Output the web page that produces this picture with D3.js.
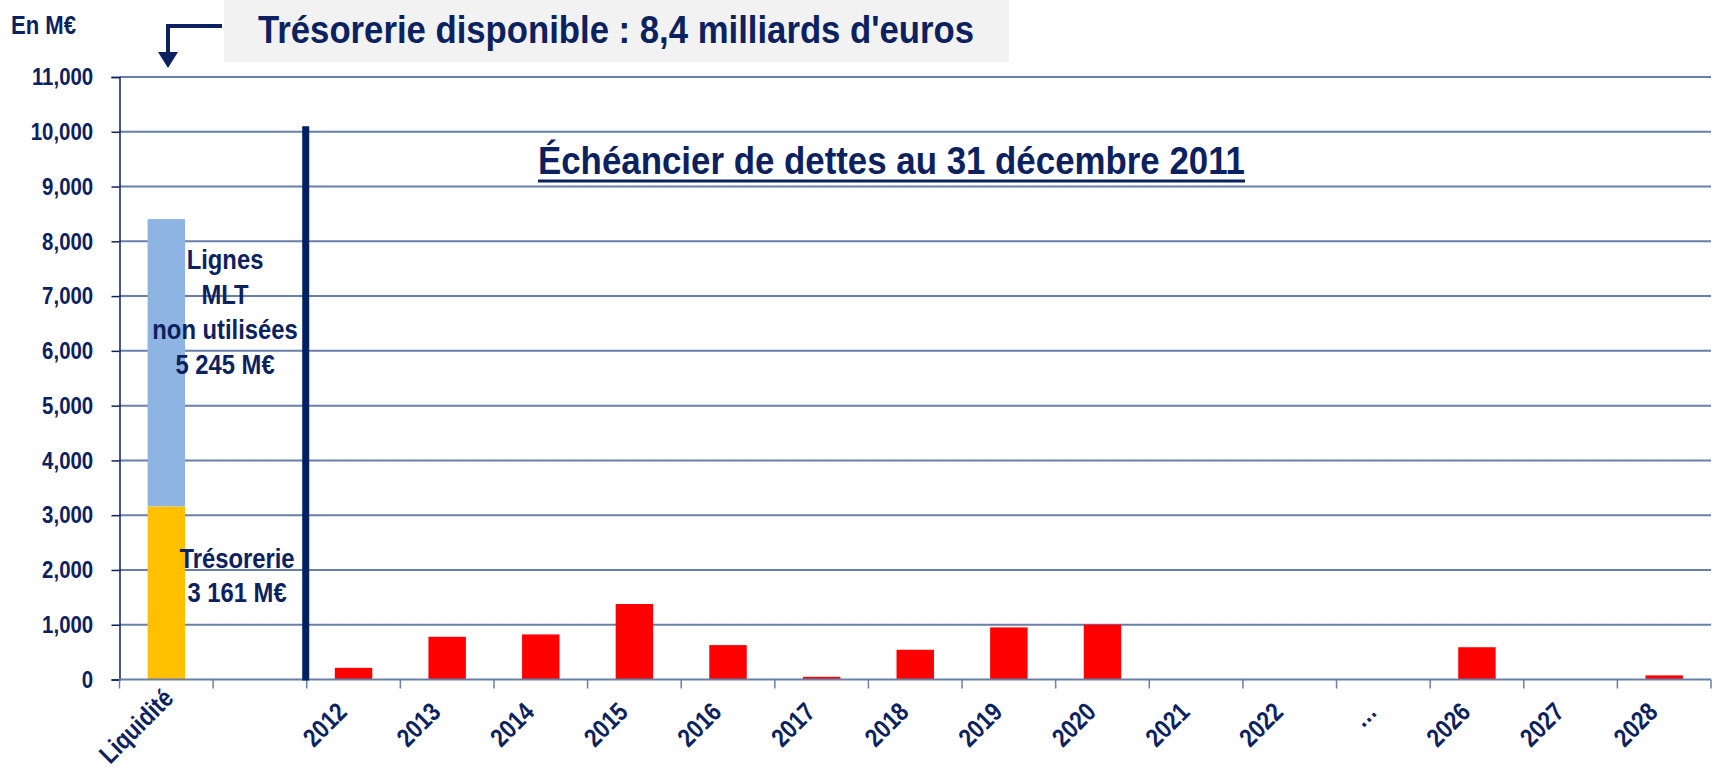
<!DOCTYPE html>
<html>
<head>
<meta charset="utf-8">
<script src="https://cdn.jsdelivr.net/npm/d3@7"></script>
<style>
  body { margin: 0; background: #fff; }
  svg text { font-family: 'Liberation Sans', Arial, sans-serif; font-weight: bold; fill: #0c2260; }
</style>
</head>
<body>
<script>
// data
const categories = ['Liquidité', '', '2012', '2013', '2014', '2015', '2016', '2017', '2018', '2019', '2020', '2021', '2022', '…', '2026', '2027', '2028'];
const debt = [null, null, 213, 780, 823, 1378, 628, 49, 543, 951, 1003, 0, 0, null, 589, 0, 75];
const tresorerie = 3161;
const lignesMLT = 5245;
const yTicks = [0, 1000, 2000, 3000, 4000, 5000, 6000, 7000, 8000, 9000, 10000, 11000];
const dividerValue = 10100;

// svg params
const svgW = 1716;
const svgH = 771;
const plot = { left: 119.5, right: 1711, top: 77, bottom: 679.5 };
const navy = '#0c2260';
const gridColor = '#6a7fa8';
const narrow = 'scale(0.85,1)'; // fake Arial Narrow

const svg = d3.select('body').append('svg').attr('width', svgW).attr('height', svgH);

const x = d3.scaleBand().domain(d3.range(categories.length)).range([ plot.left, plot.right ]).paddingInner(0).paddingOuter(0);
const y = d3.scaleLinear().domain([ 0, 11000 ]).range([ plot.bottom, plot.top ]);
const barW = x.bandwidth() * 0.4;
const barX = (i) => x(i) + (x.bandwidth() - barW) / 2;

const label = (px, py, txt, size, anchor) =>
  svg.append('g').attr('transform', 'translate(' + px + ',' + py + ') ' + narrow)
    .append('text').attr('text-anchor', anchor || 'middle').style('font-size', size + 'px').text(txt);

/*
  header
*/
svg.append('rect').attr('x', 224).attr('y', 0).attr('width', 785).attr('height', 62).attr('fill', '#f2f2f2');
svg.append('text').attr('x', 258).attr('y', 43).style('font-size', '38px')
  .attr('textLength', 716).attr('lengthAdjust', 'spacingAndGlyphs')
  .text("Trésorerie disponible : 8,4 milliards d'euros");
label(11, 34, 'En M€', 26, 'start');

// bent arrow
svg.append('path').attr('d', 'M222,26 H168 V54').attr('fill', 'none').attr('stroke', navy).attr('stroke-width', 4);
svg.append('path').attr('d', 'M158,52 L178,52 L168,68 Z').attr('fill', navy);

/*
  grid + axes
*/
svg.append('g').selectAll('line').data(yTicks.slice(1)).join('line')
  .attr('x1', plot.left).attr('x2', plot.right)
  .attr('y1', (d) => y(d)).attr('y2', (d) => y(d))
  .attr('stroke', gridColor).attr('stroke-width', 2);

const yAxis = svg.append('g').attr('transform', 'translate(' + plot.left + ',0)')
  .call(d3.axisLeft(y).tickValues(yTicks).tickSize(8).tickPadding(23).tickFormat(d3.format(',')));
yAxis.select('.domain').attr('stroke', navy).attr('stroke-width', 1.5);
yAxis.selectAll('.tick line').attr('stroke', navy).attr('stroke-width', 1.5);
yAxis.selectAll('text').style('font-size', '24px').attr('fill', navy).attr('transform', narrow);

/*
  bars
*/
svg.append('rect').attr('x', barX(0)).attr('width', barW)
  .attr('y', y(tresorerie)).attr('height', y(0) - y(tresorerie)).attr('fill', '#ffc000');
svg.append('rect').attr('x', barX(0)).attr('width', barW)
  .attr('y', y(tresorerie + lignesMLT)).attr('height', y(tresorerie) - y(tresorerie + lignesMLT)).attr('fill', '#8eb4e3');

svg.append('g').selectAll('rect').data(debt.map((v, i) => ({ v, i })).filter((d) => d.v > 0)).join('rect')
  .attr('x', (d) => barX(d.i)).attr('width', barW)
  .attr('y', (d) => y(d.v)).attr('height', (d) => y(0) - y(d.v))
  .attr('fill', '#ff0000');

// x axis (ticks between categories)
const xg = svg.append('g');
xg.append('line').attr('x1', plot.left).attr('x2', plot.right).attr('y1', y(0)).attr('y2', y(0))
  .attr('stroke', gridColor).attr('stroke-width', 2);
xg.selectAll('.xtick').data(d3.range(categories.length + 1)).join('line')
  .attr('class', 'xtick')
  .attr('x1', (i) => plot.left + i * x.step()).attr('x2', (i) => plot.left + i * x.step())
  .attr('y1', y(0)).attr('y2', y(0) + 9)
  .attr('stroke', gridColor).attr('stroke-width', 1.5);
const xLabels = xg.selectAll('.xlabel').data(categories).join('text')
  .attr('class', 'xlabel')
  .attr('text-anchor', 'end')
  .attr('transform', (d, i) => 'translate(' + (x(i) + x.bandwidth() / 2 - 5) + ',' + (y(0) + 34) + ') rotate(-45) ' + narrow)
  .style('font-size', '26px')
  .text((d) => d);
// long labels slide up along their direction so they stay on the page
const refLen = xLabels.filter((d) => d === '2012').node().getComputedTextLength();
xLabels.attr('dx', function () {
  return Math.max(0, 0.45 * (this.getComputedTextLength() - refLen));
});

// divider
svg.append('line')
  .attr('x1', x(2) - 1).attr('x2', x(2) - 1)
  .attr('y1', y(dividerValue)).attr('y2', y(0) + 1)
  .attr('stroke', '#002060').attr('stroke-width', 7);

/*
  labels
*/
const lx = barX(0) + barW;
[ 'Lignes', 'MLT', 'non utilisées', '5 245 M€' ].forEach((t, i) => label(lx + 40, y(7500) + i * 35, t, 28));
[ 'Trésorerie', '3 161 M€' ].forEach((t, i) => label(lx + 52, y(2030) + i * 34, t, 28));

svg.append('text').attr('x', 538).attr('y', 174).style('font-size', '38px')
  .attr('textLength', 707).attr('lengthAdjust', 'spacingAndGlyphs')
  .text('Échéancier de dettes au 31 décembre 2011');
svg.append('line').attr('x1', 538).attr('x2', 1245).attr('y1', 181).attr('y2', 181)
  .attr('stroke', navy).attr('stroke-width', 3);
</script>
</body>
</html>
